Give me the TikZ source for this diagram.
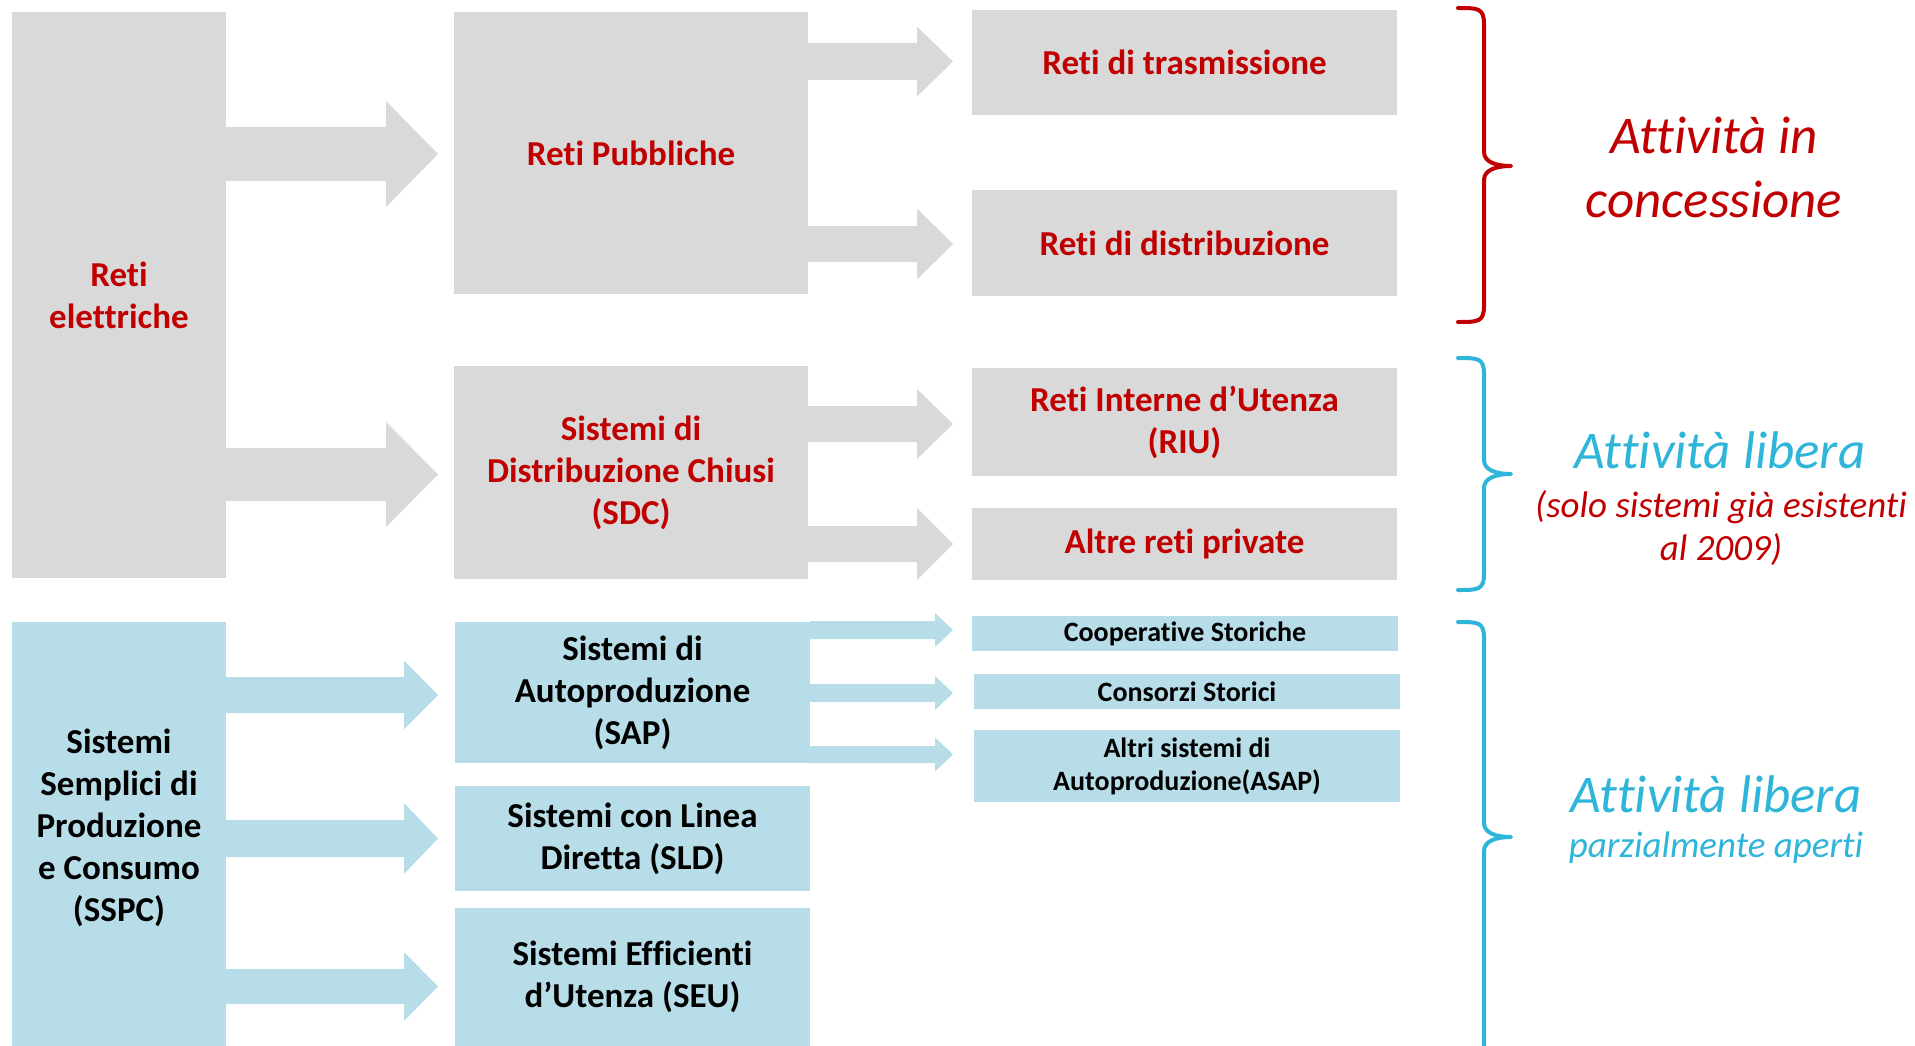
\documentclass[tikz,border=0pt]{standalone}
\usepackage{fontspec}
\setmainfont{Carlito}[Ligatures={NoCommon}]
\usetikzlibrary{calc}
\definecolor{boxgray}{HTML}{D9D9D9}
\definecolor{boxblue}{HTML}{B7DEE8}
\definecolor{txtred}{HTML}{C00000}
\definecolor{txtblue}{HTML}{2EB5D9}
% #1 colour, #2 from node, #3 to node, #4 axis y, #5 shaft half, #6 head half, #7 head length, #8 gap
\newcommand\fatarrow[8]{%
  \fill[#1] ($(#2.east |- 0,#4)+(0,-#5)$) -- ($(#3.west |- 0,#4)+(-#8-#7,-#5)$)
    -- ($(#3.west |- 0,#4)+(-#8-#7,-#6)$) -- ($(#3.west |- 0,#4)+(-#8,0)$)
    -- ($(#3.west |- 0,#4)+(-#8-#7,#6)$) -- ($(#3.west |- 0,#4)+(-#8-#7,#5)$)
    -- ($(#2.east |- 0,#4)+(0,#5)$) -- cycle;}
% #1 colour, #2 top, #3 tip, #4 bottom
\newcommand\curlybrace[4]{%
  \draw[#1, line width=4, line cap=round, line join=round]
    (1458,#2) .. controls (1478,#2) and (1484,#2) .. (1484,#2+16)
    -- (1484,#3-14) .. controls (1484,#3-4) and (1496,#3) .. (1511,#3)
    .. controls (1496,#3) and (1484,#3+4) .. (1484,#3+14)
    -- (1484,#4-16) .. controls (1484,#4) and (1478,#4) .. (1458,#4);}
\begin{document}
\begin{tikzpicture}[x=1pt,y=-1pt,
  box/.style={anchor=north west, inner sep=0pt, outer sep=0pt, align=center,
    font=\fontsize{35}{42}\selectfont\bfseries},
  gbox/.style={box, fill=boxgray, text=txtred},
  bbox/.style={box, fill=boxblue, text=black},
  sbox/.style={bbox, font=\fontsize{28}{33}\selectfont\bfseries},
  bigit/.style={anchor=base, inner sep=0pt, font=\fontsize{53}{64}\selectfont\itshape},
  smit/.style={anchor=base, inner sep=0pt, font=\fontsize{37}{43}\selectfont\itshape}]
\useasboundingbox (0,0) rectangle (1915,1046);
\clip (0,0) rectangle (1915,1046);

% grey column
\node[gbox, minimum width=214, minimum height=566] (re) at (12,12) {Reti\\elettriche};
\node[gbox, minimum width=354, minimum height=282] (pub) at (454,12) {Reti Pubbliche};
\node[gbox, minimum width=354, minimum height=213] (sdc) at (454,366) {Sistemi di\\Distribuzione Chiusi\\(SDC)};
\node[gbox, minimum width=425, minimum height=105] (tra) at (972,10) {Reti di trasmissione};
\node[gbox, minimum width=425, minimum height=106] (dis) at (972,190) {Reti di distribuzione};
\node[gbox, minimum width=425, minimum height=108] (riu) at (972,368) {Reti Interne d’Utenza\\(RIU)};
\node[gbox, minimum width=425, minimum height=72] (alt) at (972,508) {Altre reti private};

% blue column
\node[bbox, minimum width=214, minimum height=412] (sspc) at (12,622) {Sistemi\\Semplici di\\Produzione\\e Consumo\\(SSPC)};
\fill[boxblue] (sspc.south west) rectangle ($(sspc.south east)+(0,30)$);
\node[bbox, minimum width=355, minimum height=141] (sap) at (455,622) {Sistemi di\\Autoproduzione\\(SAP)};
\node[bbox, minimum width=355, minimum height=105] (sld) at (455,786) {Sistemi con Linea\\Diretta (SLD)};
\node[bbox, minimum width=355, minimum height=138] (seu) at (455,908) {Sistemi Efficienti\\d’Utenza (SEU)};
\node[sbox, minimum width=426, minimum height=35] (coop) at (972,616) {Cooperative Storiche};
\node[sbox, minimum width=426, minimum height=35] (cons) at (974,674) {Consorzi Storici};
\node[sbox, minimum width=426, minimum height=72] (asap) at (974,730) {Altri sistemi di\\Autoproduzione(ASAP)};

% arrows
\fatarrow{boxgray}{re}{pub}{154}{27}{53}{52}{16}
\fatarrow{boxgray}{re}{sdc}{474.5}{26.5}{52.5}{52}{16}
\fatarrow{boxgray}{pub}{tra}{61.5}{18.5}{35}{36}{19}
\fatarrow{boxgray}{pub}{dis}{244}{18}{35.5}{36}{19}
\fatarrow{boxgray}{sdc}{riu}{424}{18}{35}{36}{19}
\fatarrow{boxgray}{sdc}{alt}{544}{18}{36}{36}{19}
\fatarrow{boxblue}{sspc}{sap}{695}{18}{34.5}{34}{17}
\fatarrow{boxblue}{sspc}{sld}{838.5}{18.5}{35.5}{34}{17}
\fatarrow{boxblue}{sspc}{seu}{986.5}{17.5}{34.5}{34}{17}
\fatarrow{boxblue}{sap}{coop}{630}{9}{17}{18}{19}
\fatarrow{boxblue}{sap}{cons}{693}{9}{17}{18}{21}
\fatarrow{boxblue}{sap}{asap}{754.5}{8.5}{17}{18}{21}

% braces
\curlybrace{txtred}{8}{166}{322}
\curlybrace{txtblue}{358}{474}{590}
\curlybrace{txtblue}{622}{837}{1070}

% right-hand texts
\node[bigit, text=txtred] (c1) at (1714,154) {Attività in};
\node[bigit, text=txtred] (c2) at (1714,218) {concessione};
\node[bigit, text=txtblue] (l1) at (1720,468) {Attività libera};
\node[smit, text=txtred] (l2) at (1721,517) {(solo sistemi già esistenti};
\node[smit, text=txtred] (l3) at (1721,560) {al 2009)};
\node[bigit, text=txtblue] (p1) at (1716,812) {Attività libera};
\node[smit, text=txtblue] (p2) at (1716,857) {parzialmente aperti};
\end{tikzpicture}
\end{document}
